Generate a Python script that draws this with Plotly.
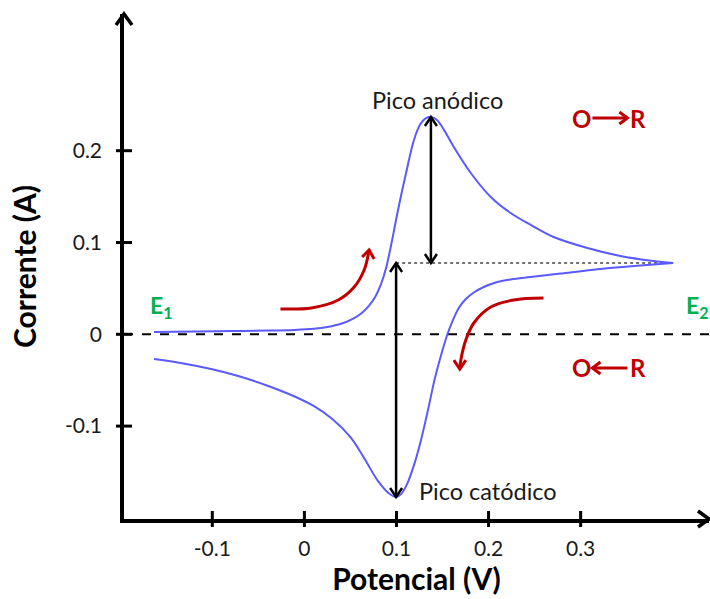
import plotly.graph_objects as go

# ---------------- data ----------------
fwd_v = [-0.1634, -0.1200, -0.0800, -0.0400, -0.0100, 0.0100, 0.0250, 0.0400, 0.0520,
         0.0620, 0.0700, 0.0770, 0.0830, 0.0887, 0.0942, 0.1017, 0.1104, 0.1190, 0.1260,
         0.1320, 0.1374, 0.1440, 0.1520, 0.1623, 0.1807, 0.2024, 0.2240, 0.2457, 0.2706,
         0.3074, 0.3431, 0.3788, 0.4004]
fwd_i = [0.0025, 0.0030, 0.0035, 0.0040, 0.0048, 0.0060, 0.0080, 0.0115, 0.0165,
         0.0230, 0.0310, 0.0410, 0.0540, 0.0722, 0.0973, 0.1354, 0.1757, 0.2117, 0.2290,
         0.2355, 0.2367, 0.2335, 0.2220, 0.2040, 0.1757, 0.1496, 0.1321, 0.1191, 0.1060,
         0.0940, 0.0853, 0.0799, 0.0777]

rev_v = [0.4004, 0.3647, 0.3214, 0.2781, 0.2457, 0.2240, 0.2078, 0.1948, 0.1840, 0.1753,
         0.1677, 0.1613, 0.1558, 0.1494, 0.1418, 0.1342, 0.1266, 0.1190, 0.1115, 0.1050,
         0.0996, 0.0920, 0.0800, 0.0650, 0.0500, 0.0300, 0.0100, -0.0100, -0.0400, -0.0700,
         -0.1000, -0.1300, -0.1634]
rev_i = [0.0777, 0.0750, 0.0712, 0.0662, 0.0624, 0.0597, 0.0564, 0.0515, 0.0455, 0.0384,
         0.0286, 0.0155, 0.0014, -0.0193, -0.0477, -0.0826, -0.1153, -0.1425, -0.1632, -0.1741,
         -0.1773, -0.1735, -0.1600, -0.1350, -0.1120, -0.0920, -0.0780, -0.0680, -0.0560, -0.0460,
         -0.0380, -0.0320, -0.0270]

x_ticks = [-0.1, 0, 0.1, 0.2, 0.3]
x_tick_labels = ["-0.1", "0", "0.1", "0.2", "0.3"]
y_ticks = [-0.1, 0, 0.1, 0.2]
y_tick_labels = ["-0.1", "0", "0.1", "0.2"]

x_title = "Potencial (V)"
y_title = "Corrente (A)"

# peaks / markers
anodic_peak = (0.1374, 0.2367)
cathodic_peak = (0.0996, -0.1773)
switch_level = 0.0777
switch_v = 0.4004

# red curved arrows
arrow1_v = [-0.0260, 0.0076, 0.0368, 0.0541, 0.0649, 0.0703]
arrow1_i = [0.0276, 0.0287, 0.0374, 0.0515, 0.0700, 0.0918]
arrow2_v = [0.2597, 0.2273, 0.2024, 0.1840, 0.1753, 0.1699, 0.1688]
arrow2_i = [0.0395, 0.0374, 0.0297, 0.0123, -0.0063, -0.0281, -0.0379]

# text positions
label_anodic = ("Pico anódico", 0.145, 0.2552)
label_cathodic = ("Pico catódico", 0.199, -0.171)
label_e1 = ("E<sub>1</sub>", -0.155, 0.0300)
label_e2 = ("E<sub>2</sub>", 0.4270, 0.0300)
ox_top = (0.301, 0.3626, 0.2356)     # O x, R x, level
ox_bot = (0.301, 0.3626, -0.0367)

X_RANGE = [-0.1959, 0.4394]
Y_RANGE = [-0.2012, 0.3489]

BLUE = "#5a5aff"
RED = "#c00000"
GREEN = "#00b050"
FONT = "Lato"

fig = go.Figure()

fig.add_trace(go.Scatter(x=fwd_v, y=fwd_i, mode="lines",
                         line=dict(color=BLUE, width=2, shape="spline", smoothing=1.0),
                         hoverinfo="skip", showlegend=False))
fig.add_trace(go.Scatter(x=rev_v, y=rev_i, mode="lines",
                         line=dict(color=BLUE, width=2, shape="spline", smoothing=1.0),
                         hoverinfo="skip", showlegend=False))

for av, ai in ((arrow1_v, arrow1_i), (arrow2_v, arrow2_i)):
    fig.add_trace(go.Scatter(x=av, y=ai, mode="lines",
                             line=dict(color=RED, width=3, shape="spline", smoothing=1.0),
                             hoverinfo="skip", showlegend=False))

shapes = []


def chevron(xv, yv, arms, color, width, xref="x", yref="y"):
    (ax1, ay1), (ax2, ay2) = arms
    path = f"M{ax1},{ay1} L0,0 L{ax2},{ay2}"
    return dict(type="path", xref=xref, yref=yref, xsizemode="pixel", ysizemode="pixel",
                xanchor=xv, yanchor=yv, path=path, line=dict(color=color, width=width),
                layer="above")


# zero dashed line
shapes.append(dict(type="line", xref="paper", yref="y", x0=0, x1=1, y0=0, y1=0,
                   line=dict(color="black", width=2, dash="dash"), layer="below"))
# switch level dotted line
shapes.append(dict(type="line", xref="x", yref="y", x0=cathodic_peak[0], x1=switch_v,
                   y0=switch_level, y1=switch_level,
                   line=dict(color="#444444", width=1.4, dash="dot"), layer="below"))

# black double arrows
shapes.append(dict(type="line", xref="x", yref="y", x0=anodic_peak[0], x1=anodic_peak[0],
                   y0=switch_level, y1=anodic_peak[1], line=dict(color="black", width=2.5)))
shapes.append(chevron(anodic_peak[0], anodic_peak[1], ((-6, -9), (6, -9)), "black", 2.5))
shapes.append(chevron(anodic_peak[0], switch_level, ((-6, 9), (6, 9)), "black", 2.5))
shapes.append(dict(type="line", xref="x", yref="y", x0=cathodic_peak[0], x1=cathodic_peak[0],
                   y0=switch_level, y1=cathodic_peak[1], line=dict(color="black", width=2.5)))
shapes.append(chevron(cathodic_peak[0], switch_level, ((-6, -9), (6, -9)), "black", 2.5))
shapes.append(chevron(cathodic_peak[0], cathodic_peak[1], ((-6, 9), (6, 9)), "black", 2.5))

# red arrow heads
shapes.append(chevron(arrow1_v[-1], arrow1_i[-1], ((-7, -7), (5, -9)), RED, 3))
shapes.append(chevron(arrow2_v[-1], arrow2_i[-1], ((-6, 9), (6, 9)), RED, 3))

# O -> R arrows (straight red arrows between the letters)
gap = 0.0118
for (ox, rx, lvl), direction in ((ox_top, 1), (ox_bot, -1)):
    a0, a1 = ox + gap, rx - gap
    shapes.append(dict(type="line", xref="x", yref="y", x0=a0, x1=a1, y0=lvl, y1=lvl,
                       line=dict(color=RED, width=3)))
    if direction == 1:
        shapes.append(chevron(a1, lvl, ((-8, 6), (-8, -6)), RED, 3))
    else:
        shapes.append(chevron(a0, lvl, ((8, 6), (8, -6)), RED, 3))

# axis ticks crossing axis lines
for t in x_ticks:
    shapes.append(dict(type="line", xref="x", yref="paper", ysizemode="pixel", yanchor=0,
                       x0=t, x1=t, y0=-8, y1=8, line=dict(color="black", width=3)))
for t in y_ticks:
    shapes.append(dict(type="line", xref="paper", yref="y", xsizemode="pixel", xanchor=0,
                       x0=-8, x1=8, y0=t, y1=t, line=dict(color="black", width=3)))

# axis arrow heads
shapes.append(chevron(0, 1, ((-8, -11), (8, -11)), "black", 3.5, xref="paper", yref="paper"))
shapes.append(chevron(1, 0, ((-11, 8), (-11, -8)), "black", 3.5, xref="paper", yref="paper"))

annotations = []
txt_font = dict(family=FONT, size=23.5, color="#1a1a1a")
annotations.append(dict(x=label_anodic[1], y=label_anodic[2], text=label_anodic[0],
                        showarrow=False, font=txt_font, xanchor="center", yanchor="middle"))
annotations.append(dict(x=label_cathodic[1], y=label_cathodic[2], text=label_cathodic[0],
                        showarrow=False, font=txt_font, xanchor="center", yanchor="middle"))
e_font = dict(family=FONT, size=23, color=GREEN, weight="bold")
for lab in (label_e1, label_e2):
    annotations.append(dict(x=lab[1], y=lab[2], text=f"<b>{lab[0]}</b>", showarrow=False,
                            font=e_font, xanchor="center", yanchor="middle"))

or_font = dict(family=FONT, size=24, color=RED)
for ox, rx, lvl in (ox_top, ox_bot):
    annotations.append(dict(x=ox, y=lvl, text="<b>O</b>", showarrow=False, font=or_font,
                            xanchor="center", yanchor="middle"))
    annotations.append(dict(x=rx, y=lvl, text="<b>R</b>", showarrow=False, font=or_font,
                            xanchor="center", yanchor="middle"))

fig.update_layout(
    width=710, height=599,
    margin=dict(l=124, r=1, t=14, b=80),
    paper_bgcolor="white", plot_bgcolor="white",
    shapes=shapes, annotations=annotations,
    xaxis=dict(range=X_RANGE, showgrid=False, zeroline=False, showline=True,
               linecolor="black", linewidth=3.5, ticks="", tickvals=x_ticks,
               ticktext=x_tick_labels, ticklabelstandoff=8,
               tickfont=dict(family=FONT, size=21, color="#1a1a1a"),
               title=dict(text=f"<b>{x_title}</b>", standoff=10,
                          font=dict(family=FONT, size=30, color="black"))),
    yaxis=dict(range=Y_RANGE, showgrid=False, zeroline=False, showline=True,
               linecolor="black", linewidth=3.5, ticks="", tickvals=y_ticks,
               ticktext=y_tick_labels, ticklabelstandoff=14,
               tickfont=dict(family=FONT, size=21, color="#1a1a1a"),
               title=dict(text=f"<b>{y_title}</b>", standoff=20,
                          font=dict(family=FONT, size=30, color="black"))),
)

fig.write_html("out.html")
